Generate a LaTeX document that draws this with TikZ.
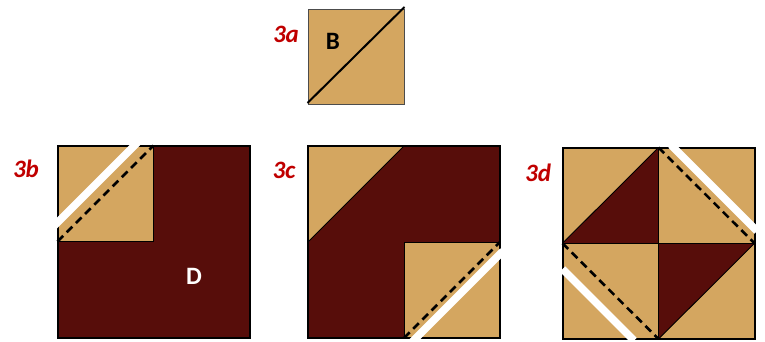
\documentclass[tikz,border=0pt]{standalone}
\usepackage{fontspec}
\setmainfont{Carlito}
\definecolor{patchtan}{RGB}{212,166,96}
\definecolor{patchdark}{RGB}{87,13,10}
\definecolor{lblred}{RGB}{192,0,0}
\begin{document}
\begin{tikzpicture}[x=1pt,y=-1pt,
  lbl/.style={text=lblred,font=\fontsize{25}{28}\selectfont\bfseries\itshape,inner sep=0pt},
  letter/.style={font=\fontsize{25}{28}\selectfont\bfseries,inner sep=0pt},
  cutline/.style={white,line width=7.5pt},
  seam/.style={line width=2.6pt,dash pattern=on 8pt off 5pt},
  thinline/.style={line width=0.9pt},
  outer/.style={line width=2pt},
  line join=miter]
\useasboundingbox (0,0) rectangle (765,341);

% ---- 3a ----
\fill[patchtan] (308,9) rectangle (404,104);
\draw[line width=1pt,black!70] (308,9) rectangle (404,104);
\draw[line width=2pt] (307.5,103) -- (404.5,7);
\node[lbl] (l3a) at (286,34) {3a};
\node[letter] (B) at (333,41) {B};

% ---- 3b ----
\fill[patchdark] (57.5,145.5) rectangle (249.5,337.5);
\fill[patchtan] (57.5,145.5) rectangle (153.5,241.5);
\draw[thinline] (153.5,145.5) -- (153.5,241.5) -- (57.5,241.5);
\draw[outer] (57.5,145.5) rectangle (249.5,337.5);
\draw[seam] (57.5,241.5) -- (153.5,145.5);
\draw[cutline] (54,226) -- (137.5,142.5);
\node[lbl] (l3b) at (26,169) {3b};
\node[letter,text=white] (D) at (194,276) {D};

% ---- 3c ----
\fill[patchdark] (308,146) rectangle (500,338);
\fill[patchtan] (308,146) -- (404,146) -- (308,242) -- cycle;
\draw[thinline] (404,146) -- (308,242);
\fill[patchtan] (404,242) rectangle (500,338);
\draw[thinline] (404,338) -- (404,242) -- (500,242);
\draw[outer] (308,146) rectangle (500,338);
\draw[seam] (404,338) -- (500,242);
\draw[cutline] (412,342) -- (503,251);
\node[lbl] (l3c) at (284,170) {3c};

% ---- 3d ----
\fill[patchtan] (562.5,147.5) rectangle (754.5,339);
\fill[patchdark] (562.5,243.3) -- (658.5,147.5) -- (658.5,243.3) -- cycle;
\fill[patchdark] (658.5,243.3) -- (754.5,243.3) -- (658.5,339) -- cycle;
\draw[thinline] (658.5,147.5) -- (658.5,339);
\draw[thinline] (562.5,243.3) -- (754.5,243.3);
\draw[thinline] (562.5,243.3) -- (658.5,147.5);
\draw[thinline] (754.5,243.3) -- (658.5,339);
\draw[outer] (562.5,147.5) rectangle (754.5,339);
\draw[seam] (658.5,147.5) -- (754.5,243.3);
\draw[seam] (562.5,243.3) -- (658.5,339);
\draw[cutline] (671,145) -- (757,231);
\draw[cutline] (562.5,269) -- (634,340.5);
\node[lbl] (l3d) at (538,173) {3d};
\end{tikzpicture}
\end{document}
